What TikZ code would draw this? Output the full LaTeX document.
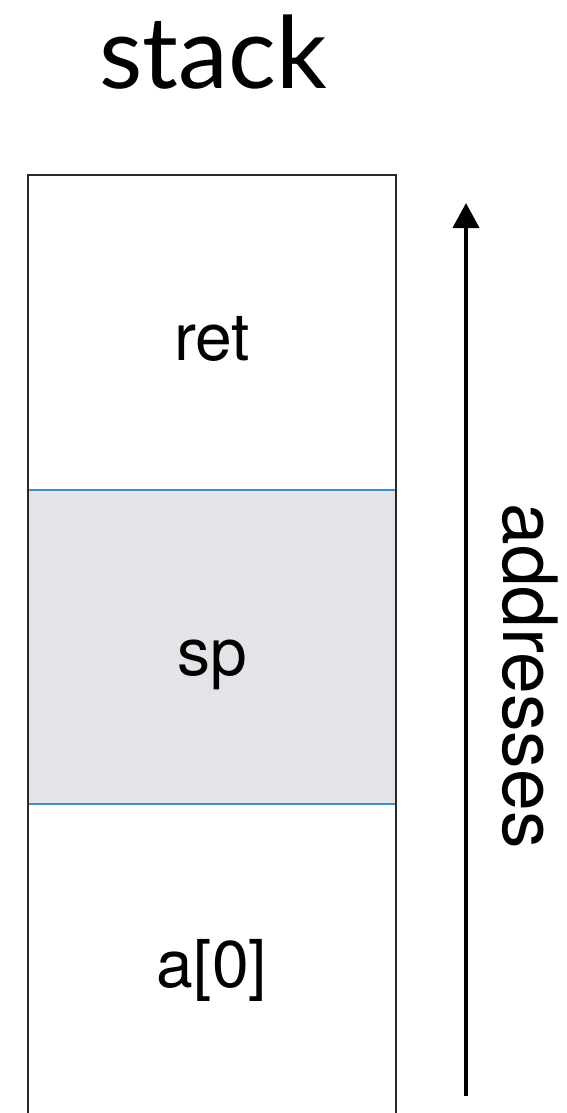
\documentclass[tikz,border=0pt]{standalone}
\usepackage{fontspec}
\setmainfont{TeX Gyre Heros}
\newfontfamily\titlefont{Lato}
\usetikzlibrary{arrows.meta}
\definecolor{cellgray}{RGB}{227,228,232}
\definecolor{sepblue}{RGB}{61,143,198}
\definecolor{boxline}{RGB}{40,40,40}
\begin{document}
\begin{tikzpicture}[x=1pt,y=-1pt]
        \useasboundingbox(0,0)rectangle(567,1113);
        \fill[cellgray](28,490)rectangle(396,804);
        \draw[sepblue,line width=1.5pt](28,490)--(396,490);
        \draw[sepblue,line width=1.5pt](28,804)--(396,804);
        \draw[boxline,line width=2pt](28,1113)--(28,175)--(396,175)--(396,1113);
        \node(title)[anchor=base,font=\titlefont\fontsize{100}{100}\selectfont]at(213,89){stack};
        \node(ret)[anchor=base,font=\fontsize{66}{66}\selectfont]at(212,360){ret};
        \node(sp)[anchor=base,font=\fontsize{66}{66}\selectfont]at(212,675){sp};
        \node(a0)[anchor=base,font=\fontsize{66}{66}\selectfont]at(212,987){a[0]};
        \coordinate(lo)at(466,1096);
        \coordinate(hi)at(466,203);
        \draw[line width=4pt,-{Triangle[width=26pt,length=25pt]}](lo)--(hi);
        \node(addr)[anchor=base,rotate=-90,font=\fontsize{75}{75}\selectfont]at(503,676){addresses};
    \end{tikzpicture}
\end{document}
